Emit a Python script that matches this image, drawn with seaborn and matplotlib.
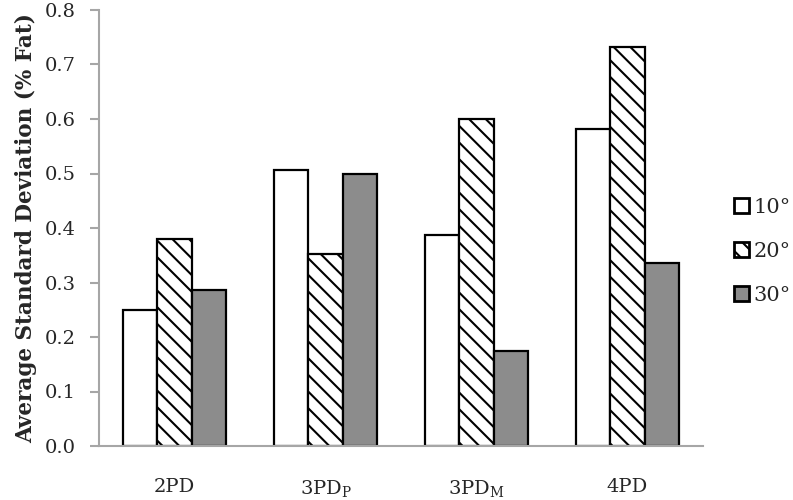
import numpy as np
import pandas as pd
import matplotlib
matplotlib.use('Agg')
import matplotlib.pyplot as plt
import seaborn as sns
from matplotlib.patches import Patch

CATEGORIES = ['2PD', r'3PD$_\mathrm{P}$', r'3PD$_\mathrm{M}$', '4PD']
ANGLES = ['10°', '20°', '30°']
VALUES_10 = [0.249, 0.507, 0.387, 0.582]
VALUES_20 = [0.380, 0.352, 0.600, 0.733]
VALUES_30 = [0.287, 0.499, 0.175, 0.336]

sns.set_style('white')
plt.rcParams['font.family'] = ['DejaVu Serif']
plt.rcParams['mathtext.fontset'] = 'dejavuserif'
plt.rcParams['hatch.linewidth'] = 1.5

df = pd.DataFrame({
    'category': CATEGORIES * 3,
    'angle': [a for a in ANGLES for _ in CATEGORIES],
    'value': VALUES_10 + VALUES_20 + VALUES_30,
})

palette = {'10°': 'white', '20°': 'white', '30°': '#8c8c8c'}
GRID = '#a6a6a6'
FS = 14

fig = plt.figure(figsize=(7.93, 5.0), dpi=100)
ax = fig.add_axes([0.125, 0.108, 0.7615, 0.872])

sns.barplot(data=df, x='category', y='value', hue='angle', order=CATEGORIES,
            hue_order=ANGLES, palette=palette, width=0.68, edgecolor='black',
            linewidth=1.6, ax=ax, legend=False)

# diagonal hatch for the 20 degree bars
for bar in ax.containers[1]:
    bar.set_hatch('\\\\')

ax.set_ylim(0, 0.8)
ax.set_xlim(-0.5, 3.5)
yt = np.arange(0, 0.81, 0.1)
ax.set_yticks(yt)
ax.set_yticklabels([f'{v:.1f}' for v in yt], fontsize=FS)
ax.set_xticks(range(4))
ax.set_xticklabels(CATEGORIES, fontsize=FS)
ax.set_xticks(np.arange(-0.5, 3.6, 1), minor=True)
ax.tick_params(axis='x', which='major', length=0, pad=23)
ax.tick_params(axis='x', which='minor', length=5, color=GRID, width=1.5, direction='out')
ax.tick_params(axis='y', length=6.5, color=GRID, width=1.5, direction='out', left=True, pad=10)
ax.set_xlabel('')
ax.set_ylabel('Average Standard Deviation (% Fat)', fontsize=15.5, fontweight='bold', labelpad=6)

for side in ['top', 'right']:
    ax.spines[side].set_visible(False)
for side in ['left', 'bottom']:
    ax.spines[side].set_color(GRID)
    ax.spines[side].set_linewidth(1.5)

handles = [Patch(facecolor='white', edgecolor='black', linewidth=2),
           Patch(facecolor='white', edgecolor='black', linewidth=2, hatch='\\\\'),
           Patch(facecolor='#8c8c8c', edgecolor='black', linewidth=2)]
fig.legend(handles, ANGLES, loc='center left', bbox_to_anchor=(0.926, 0.497),
           frameon=False, fontsize=15, handlelength=0.72, handleheight=0.72,
           handletextpad=0.2, labelspacing=1.2, borderpad=0, borderaxespad=0)

fig.savefig('out.png', dpi=100)
